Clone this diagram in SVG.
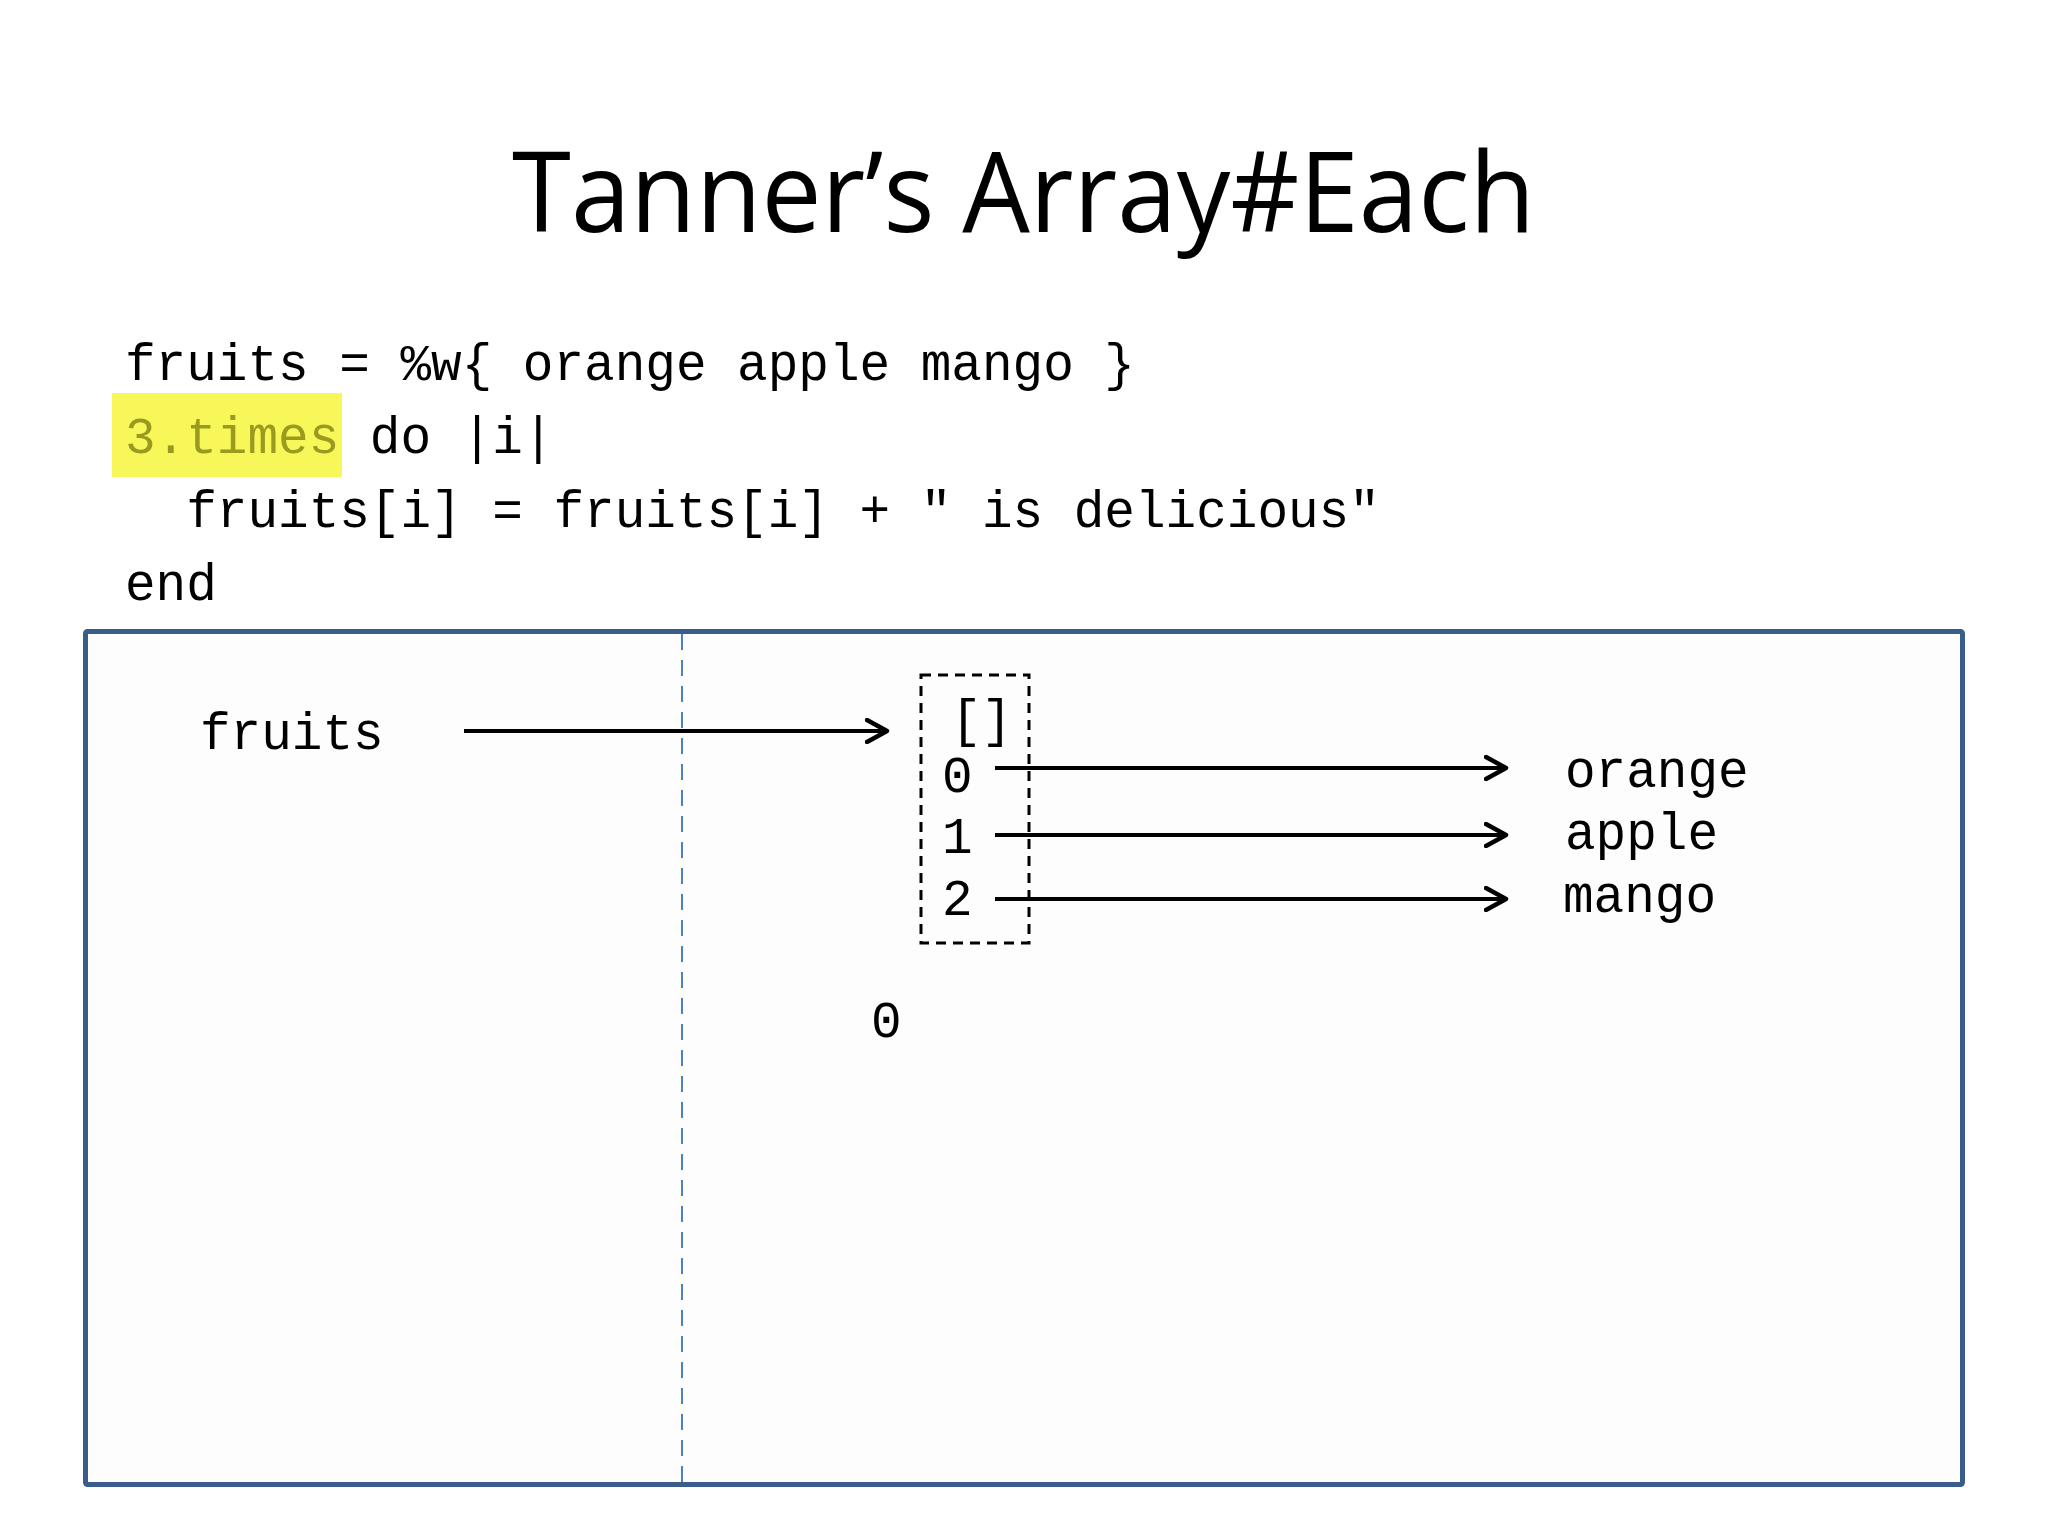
<svg xmlns="http://www.w3.org/2000/svg" width="2048" height="1536" viewBox="0 0 2048 1536">
  <defs>
    <style>
      .code { font-family: "Liberation Mono", "Courier New", monospace; font-size: 51px; fill: #000; }
      .title { font-family: "Open Sans", "Noto Sans", sans-serif; font-size: 112px; fill: #000; }
      .conn { stroke: #000; stroke-width: 4; fill: none; }
    </style>
    <marker id="arrow" viewBox="0 0 26 26" markerWidth="26" markerHeight="26" refX="22" refY="13" orient="auto" markerUnits="userSpaceOnUse">
      <path d="M2,2 L22,13 L2,24" fill="none" stroke="#000" stroke-width="4.5" stroke-linecap="round" stroke-linejoin="round"/>
    </marker>
  </defs>
  <rect x="0" y="0" width="2048" height="1536" fill="#ffffff"/>

  <g id="title">
    <text class="title" x="512" y="232" textLength="1023" lengthAdjust="spacingAndGlyphs">Tanner’s Array#Each</text>
  </g>

  <g id="code">
    <rect x="112" y="393" width="230" height="84" fill="#f7f75a"/>
    <text class="code" x="125" y="380" xml:space="preserve">fruits = %w{ orange apple mango }</text>
    <text class="code" x="125" y="453" xml:space="preserve"><tspan fill="#9a9a1e">3.times</tspan> do |i|</text>
    <text class="code" x="125" y="527" xml:space="preserve">  fruits[i] = fruits[i] + " is delicious"</text>
    <text class="code" x="125" y="600">end</text>
  </g>

  <g id="frame">
    <rect x="85.5" y="631.5" width="1877" height="853" fill="#fdfdfd" stroke="#385d8a" stroke-width="5" rx="2"/>
    <line x1="682" y1="634" x2="682" y2="1482" stroke="#4f81bd" stroke-width="2" stroke-dasharray="16,10"/>
  </g>

  <g id="node-fruits">
    <text class="code" x="200" y="749">fruits</text>
  </g>

  <g id="node-array">
    <rect x="921" y="675" width="108" height="268" fill="none" stroke="#000" stroke-width="3" stroke-dasharray="10,7"/>
    <text class="code" x="951" y="736">[]</text>
    <text class="code" x="942" y="792">0</text>
    <text class="code" x="942" y="853">1</text>
    <text class="code" x="942" y="915">2</text>
  </g>

  <g id="node-orange"><text class="code" x="1565" y="787">orange</text></g>
  <g id="node-apple"><text class="code" x="1565" y="849">apple</text></g>
  <g id="node-mango"><text class="code" x="1563" y="912">mango</text></g>

  <g id="node-i">
    <text class="code" x="871" y="1037">0</text>
  </g>

  <g id="connectors">
    <line class="conn" x1="464" y1="731" x2="887" y2="731" marker-end="url(#arrow)"/>
    <line class="conn" x1="995" y1="768" x2="1506" y2="768" marker-end="url(#arrow)"/>
    <line class="conn" x1="995" y1="835" x2="1506" y2="835" marker-end="url(#arrow)"/>
    <line class="conn" x1="995" y1="899" x2="1506" y2="899" marker-end="url(#arrow)"/>
  </g>
</svg>
